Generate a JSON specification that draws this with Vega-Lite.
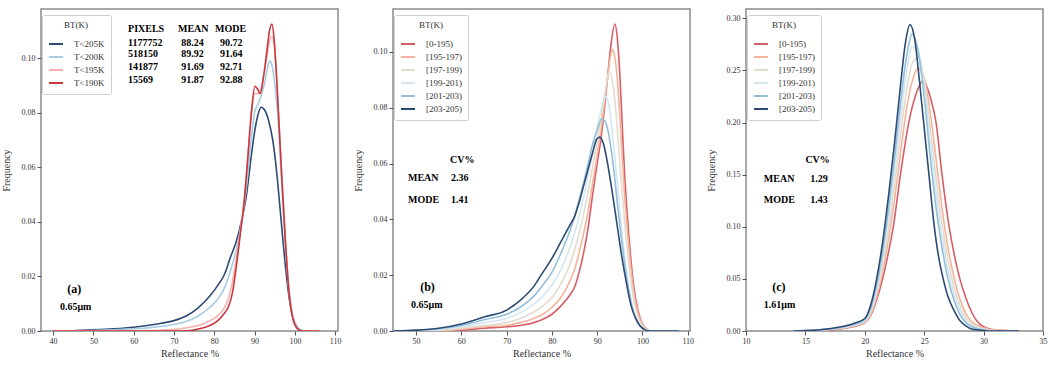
{
"$schema":"https://vega.github.io/schema/vega-lite/v6.json",
"padding":{"left":0,"top":8,"right":4,"bottom":2},
"spacing":10,
"config":{
 "font":"Liberation Serif",
 "view":{"stroke":"#8a8a8a","strokeWidth":1.5},
 "axis":{"grid":false,"domain":false,"tickSize":4,"tickColor":"#555","labelFont":"Liberation Serif","labelFontSize":8,"labelColor":"#333","titleFont":"Liberation Serif","titleFontSize":10,"titleFontWeight":"normal","titleColor":"#333","labelFlush":false,"labelOverlap":false},
 "axisY":{"minExtent":26,"maxExtent":26,"titlePadding":4,"labelFont":"Liberation Serif","titleFont":"Liberation Serif"},
 "axisX":{"labelPadding":2,"titlePadding":3,"labelFont":"Liberation Serif","titleFont":"Liberation Serif"},
 "legend":{"fillColor":"white","strokeColor":"#d0d0d0","padding":6,"cornerRadius":2,"titleFont":"Liberation Serif","titleFontSize":9,"titleFontWeight":"normal","titleAnchor":"middle","titlePadding":6,"labelFont":"Liberation Serif","labelFontSize":9,"labelOffset":10,"symbolType":"stroke","symbolSize":196,"symbolStrokeWidth":2,"rowPadding":0,"labelColor":"#333","titleColor":"#333"}
},
"datasets":{
"a":[
{"s":"T<205K","x":40,"y":0},{"s":"T<205K","x":45,"y":0.0001},{"s":"T<205K","x":50,"y":0.0004},{"s":"T<205K","x":55,"y":0.0008},{"s":"T<205K","x":60,"y":0.0014},{"s":"T<205K","x":65,"y":0.0024},{"s":"T<205K","x":70,"y":0.0038},{"s":"T<205K","x":73,"y":0.0055},{"s":"T<205K","x":76,"y":0.0085},{"s":"T<205K","x":79,"y":0.013},{"s":"T<205K","x":81,"y":0.017},{"s":"T<205K","x":82.6,"y":0.021},{"s":"T<205K","x":84,"y":0.027},{"s":"T<205K","x":85.5,"y":0.033},{"s":"T<205K","x":86.7,"y":0.04},{"s":"T<205K","x":88,"y":0.05},{"s":"T<205K","x":89,"y":0.062},{"s":"T<205K","x":90,"y":0.073},{"s":"T<205K","x":90.8,"y":0.079},{"s":"T<205K","x":91.6,"y":0.082},{"s":"T<205K","x":92.5,"y":0.081},{"s":"T<205K","x":93.5,"y":0.077},{"s":"T<205K","x":94.5,"y":0.07},{"s":"T<205K","x":95.5,"y":0.058},{"s":"T<205K","x":96.5,"y":0.042},{"s":"T<205K","x":97.5,"y":0.026},{"s":"T<205K","x":98.5,"y":0.013},{"s":"T<205K","x":99.5,"y":0.005},{"s":"T<205K","x":100.5,"y":0.0015},{"s":"T<205K","x":101.5,"y":0.0003},{"s":"T<205K","x":102.5,"y":0},{"s":"T<205K","x":106,"y":0},
{"s":"T<200K","x":40,"y":0},{"s":"T<200K","x":50,"y":0.0002},{"s":"T<200K","x":55,"y":0.0004},{"s":"T<200K","x":60,"y":0.0008},{"s":"T<200K","x":65,"y":0.0014},{"s":"T<200K","x":70,"y":0.0024},{"s":"T<200K","x":73,"y":0.0035},{"s":"T<200K","x":76,"y":0.0055},{"s":"T<200K","x":79,"y":0.0088},{"s":"T<200K","x":81,"y":0.012},{"s":"T<200K","x":82.6,"y":0.016},{"s":"T<200K","x":84,"y":0.022},{"s":"T<200K","x":85.5,"y":0.03},{"s":"T<200K","x":86.7,"y":0.039},{"s":"T<200K","x":88,"y":0.053},{"s":"T<200K","x":89,"y":0.068},{"s":"T<200K","x":90,"y":0.08},{"s":"T<200K","x":90.8,"y":0.083},{"s":"T<200K","x":91.6,"y":0.086},{"s":"T<200K","x":92.5,"y":0.091},{"s":"T<200K","x":93.3,"y":0.097},{"s":"T<200K","x":93.8,"y":0.099},{"s":"T<200K","x":94.5,"y":0.096},{"s":"T<200K","x":95.2,"y":0.088},{"s":"T<200K","x":95.8,"y":0.078},{"s":"T<200K","x":96.5,"y":0.06},{"s":"T<200K","x":97.3,"y":0.04},{"s":"T<200K","x":98.2,"y":0.02},{"s":"T<200K","x":99.2,"y":0.007},{"s":"T<200K","x":100.2,"y":0.002},{"s":"T<200K","x":101,"y":0.0005},{"s":"T<200K","x":102,"y":0},{"s":"T<200K","x":106,"y":0},
{"s":"T<195K","x":40,"y":0},{"s":"T<195K","x":65,"y":0.0002},{"s":"T<195K","x":70,"y":0.0006},{"s":"T<195K","x":74,"y":0.0014},{"s":"T<195K","x":77,"y":0.0025},{"s":"T<195K","x":79,"y":0.0038},{"s":"T<195K","x":81,"y":0.0058},{"s":"T<195K","x":82.5,"y":0.0085},{"s":"T<195K","x":83.5,"y":0.012},{"s":"T<195K","x":84.5,"y":0.018},{"s":"T<195K","x":85.5,"y":0.027},{"s":"T<195K","x":86.5,"y":0.037},{"s":"T<195K","x":87.4,"y":0.048},{"s":"T<195K","x":88.3,"y":0.064},{"s":"T<195K","x":89.2,"y":0.079},{"s":"T<195K","x":90,"y":0.087},{"s":"T<195K","x":90.8,"y":0.087},{"s":"T<195K","x":91.4,"y":0.088},{"s":"T<195K","x":92.2,"y":0.093},{"s":"T<195K","x":93,"y":0.1},{"s":"T<195K","x":93.7,"y":0.106},{"s":"T<195K","x":94.3,"y":0.108},{"s":"T<195K","x":94.9,"y":0.104},{"s":"T<195K","x":95.5,"y":0.092},{"s":"T<195K","x":96.1,"y":0.075},{"s":"T<195K","x":96.8,"y":0.055},{"s":"T<195K","x":97.6,"y":0.035},{"s":"T<195K","x":98.5,"y":0.016},{"s":"T<195K","x":99.5,"y":0.005},{"s":"T<195K","x":100.5,"y":0.0012},{"s":"T<195K","x":101.2,"y":0.0003},{"s":"T<195K","x":102,"y":0},{"s":"T<195K","x":106,"y":0},
{"s":"T<190K","x":40,"y":0},{"s":"T<190K","x":70,"y":0},{"s":"T<190K","x":74,"y":0.0002},{"s":"T<190K","x":76,"y":0.0007},{"s":"T<190K","x":78,"y":0.0015},{"s":"T<190K","x":79.2,"y":0.0022},{"s":"T<190K","x":81,"y":0.004},{"s":"T<190K","x":82.5,"y":0.0065},{"s":"T<190K","x":83.4,"y":0.0085},{"s":"T<190K","x":84.5,"y":0.014},{"s":"T<190K","x":85.5,"y":0.024},{"s":"T<190K","x":86.5,"y":0.036},{"s":"T<190K","x":87.4,"y":0.047},{"s":"T<190K","x":88.3,"y":0.063},{"s":"T<190K","x":89.2,"y":0.08},{"s":"T<190K","x":90.1,"y":0.0897},{"s":"T<190K","x":90.8,"y":0.0885},{"s":"T<190K","x":91.4,"y":0.087},{"s":"T<190K","x":92.2,"y":0.093},{"s":"T<190K","x":93,"y":0.102},{"s":"T<190K","x":93.7,"y":0.11},{"s":"T<190K","x":94.3,"y":0.1125},{"s":"T<190K","x":94.9,"y":0.106},{"s":"T<190K","x":95.5,"y":0.092},{"s":"T<190K","x":96.1,"y":0.075},{"s":"T<190K","x":96.8,"y":0.055},{"s":"T<190K","x":97.6,"y":0.034},{"s":"T<190K","x":98.5,"y":0.015},{"s":"T<190K","x":99.5,"y":0.0045},{"s":"T<190K","x":100.5,"y":0.001},{"s":"T<190K","x":101.2,"y":0.0002},{"s":"T<190K","x":102,"y":0},{"s":"T<190K","x":106,"y":0}
],
"b":[
{"s":"[0-195)","x":45,"y":0},{"s":"[0-195)","x":55,"y":0},{"s":"[0-195)","x":60,"y":0.0003},{"s":"[0-195)","x":65,"y":0.001},{"s":"[0-195)","x":70,"y":0.0015},{"s":"[0-195)","x":73,"y":0.002},{"s":"[0-195)","x":76,"y":0.003},{"s":"[0-195)","x":78,"y":0.0042},{"s":"[0-195)","x":80,"y":0.006},{"s":"[0-195)","x":82,"y":0.009},{"s":"[0-195)","x":84,"y":0.013},{"s":"[0-195)","x":85,"y":0.0157},{"s":"[0-195)","x":86,"y":0.021},{"s":"[0-195)","x":87,"y":0.028},{"s":"[0-195)","x":88,"y":0.037},{"s":"[0-195)","x":89,"y":0.049},{"s":"[0-195)","x":90,"y":0.06},{"s":"[0-195)","x":91,"y":0.071},{"s":"[0-195)","x":92,"y":0.086},{"s":"[0-195)","x":93,"y":0.102},{"s":"[0-195)","x":93.9,"y":0.11},{"s":"[0-195)","x":94.5,"y":0.104},{"s":"[0-195)","x":95,"y":0.092},{"s":"[0-195)","x":95.5,"y":0.075},{"s":"[0-195)","x":96,"y":0.058},{"s":"[0-195)","x":96.5,"y":0.045},{"s":"[0-195)","x":97,"y":0.034},{"s":"[0-195)","x":98,"y":0.017},{"s":"[0-195)","x":99,"y":0.0075},{"s":"[0-195)","x":100,"y":0.0025},{"s":"[0-195)","x":101,"y":0.0006},{"s":"[0-195)","x":102,"y":0},{"s":"[0-195)","x":108,"y":0},
{"s":"[195-197)","x":45,"y":0},{"s":"[195-197)","x":55,"y":0.0001},{"s":"[195-197)","x":60,"y":0.0006},{"s":"[195-197)","x":65,"y":0.0015},{"s":"[195-197)","x":70,"y":0.002},{"s":"[195-197)","x":73,"y":0.003},{"s":"[195-197)","x":76,"y":0.0045},{"s":"[195-197)","x":78,"y":0.006},{"s":"[195-197)","x":80,"y":0.0085},{"s":"[195-197)","x":82,"y":0.012},{"s":"[195-197)","x":84,"y":0.018},{"s":"[195-197)","x":85,"y":0.022},{"s":"[195-197)","x":86,"y":0.028},{"s":"[195-197)","x":87,"y":0.035},{"s":"[195-197)","x":88,"y":0.043},{"s":"[195-197)","x":89,"y":0.053},{"s":"[195-197)","x":90,"y":0.063},{"s":"[195-197)","x":91,"y":0.074},{"s":"[195-197)","x":92,"y":0.087},{"s":"[195-197)","x":93,"y":0.099},{"s":"[195-197)","x":93.4,"y":0.101},{"s":"[195-197)","x":94,"y":0.097},{"s":"[195-197)","x":94.5,"y":0.089},{"s":"[195-197)","x":95,"y":0.077},{"s":"[195-197)","x":95.5,"y":0.063},{"s":"[195-197)","x":96,"y":0.05},{"s":"[195-197)","x":97,"y":0.03},{"s":"[195-197)","x":98,"y":0.015},{"s":"[195-197)","x":99,"y":0.0065},{"s":"[195-197)","x":100,"y":0.0022},{"s":"[195-197)","x":101,"y":0.0006},{"s":"[195-197)","x":102,"y":0},{"s":"[195-197)","x":108,"y":0},
{"s":"[197-199)","x":45,"y":0},{"s":"[197-199)","x":55,"y":0.0003},{"s":"[197-199)","x":60,"y":0.001},{"s":"[197-199)","x":65,"y":0.002},{"s":"[197-199)","x":70,"y":0.003},{"s":"[197-199)","x":73,"y":0.0045},{"s":"[197-199)","x":76,"y":0.0068},{"s":"[197-199)","x":78,"y":0.009},{"s":"[197-199)","x":80,"y":0.012},{"s":"[197-199)","x":82,"y":0.017},{"s":"[197-199)","x":84,"y":0.024},{"s":"[197-199)","x":85,"y":0.029},{"s":"[197-199)","x":86,"y":0.035},{"s":"[197-199)","x":87,"y":0.042},{"s":"[197-199)","x":88,"y":0.05},{"s":"[197-199)","x":89,"y":0.059},{"s":"[197-199)","x":90,"y":0.068},{"s":"[197-199)","x":91,"y":0.078},{"s":"[197-199)","x":92,"y":0.088},{"s":"[197-199)","x":92.7,"y":0.093},{"s":"[197-199)","x":93.5,"y":0.088},{"s":"[197-199)","x":94,"y":0.081},{"s":"[197-199)","x":95,"y":0.06},{"s":"[197-199)","x":96,"y":0.04},{"s":"[197-199)","x":97,"y":0.024},{"s":"[197-199)","x":98,"y":0.012},{"s":"[197-199)","x":99,"y":0.005},{"s":"[197-199)","x":100,"y":0.0018},{"s":"[197-199)","x":101,"y":0.0005},{"s":"[197-199)","x":102,"y":0},{"s":"[197-199)","x":108,"y":0},
{"s":"[199-201)","x":45,"y":0},{"s":"[199-201)","x":50,"y":0.0001},{"s":"[199-201)","x":55,"y":0.0005},{"s":"[199-201)","x":60,"y":0.0015},{"s":"[199-201)","x":65,"y":0.003},{"s":"[199-201)","x":70,"y":0.0045},{"s":"[199-201)","x":73,"y":0.0065},{"s":"[199-201)","x":76,"y":0.0095},{"s":"[199-201)","x":78,"y":0.0125},{"s":"[199-201)","x":80,"y":0.0165},{"s":"[199-201)","x":82,"y":0.022},{"s":"[199-201)","x":84,"y":0.03},{"s":"[199-201)","x":85,"y":0.035},{"s":"[199-201)","x":86,"y":0.041},{"s":"[199-201)","x":87,"y":0.048},{"s":"[199-201)","x":88,"y":0.056},{"s":"[199-201)","x":89,"y":0.064},{"s":"[199-201)","x":90,"y":0.073},{"s":"[199-201)","x":91,"y":0.08},{"s":"[199-201)","x":91.9,"y":0.084},{"s":"[199-201)","x":92.7,"y":0.08},{"s":"[199-201)","x":93.5,"y":0.069},{"s":"[199-201)","x":94.5,"y":0.052},{"s":"[199-201)","x":95.5,"y":0.035},{"s":"[199-201)","x":96.5,"y":0.021},{"s":"[199-201)","x":97.5,"y":0.011},{"s":"[199-201)","x":98.5,"y":0.005},{"s":"[199-201)","x":99.5,"y":0.0018},{"s":"[199-201)","x":100.5,"y":0.0005},{"s":"[199-201)","x":101.5,"y":0},{"s":"[199-201)","x":108,"y":0},
{"s":"[201-203)","x":45,"y":0},{"s":"[201-203)","x":50,"y":0.0002},{"s":"[201-203)","x":55,"y":0.0008},{"s":"[201-203)","x":60,"y":0.002},{"s":"[201-203)","x":65,"y":0.004},{"s":"[201-203)","x":70,"y":0.006},{"s":"[201-203)","x":73,"y":0.0085},{"s":"[201-203)","x":76,"y":0.0125},{"s":"[201-203)","x":78,"y":0.0165},{"s":"[201-203)","x":80,"y":0.021},{"s":"[201-203)","x":82,"y":0.028},{"s":"[201-203)","x":84,"y":0.036},{"s":"[201-203)","x":85,"y":0.041},{"s":"[201-203)","x":86,"y":0.047},{"s":"[201-203)","x":87,"y":0.053},{"s":"[201-203)","x":88,"y":0.06},{"s":"[201-203)","x":89,"y":0.067},{"s":"[201-203)","x":90,"y":0.072},{"s":"[201-203)","x":91,"y":0.076},{"s":"[201-203)","x":91.8,"y":0.075},{"s":"[201-203)","x":92.6,"y":0.07},{"s":"[201-203)","x":93.5,"y":0.06},{"s":"[201-203)","x":94.5,"y":0.045},{"s":"[201-203)","x":95.5,"y":0.031},{"s":"[201-203)","x":96.5,"y":0.019},{"s":"[201-203)","x":97.5,"y":0.01},{"s":"[201-203)","x":98.5,"y":0.0045},{"s":"[201-203)","x":99.5,"y":0.0016},{"s":"[201-203)","x":100.5,"y":0.0004},{"s":"[201-203)","x":101.5,"y":0},{"s":"[201-203)","x":108,"y":0},
{"s":"[203-205)","x":45,"y":0},{"s":"[203-205)","x":50,"y":0.0003},{"s":"[203-205)","x":55,"y":0.001},{"s":"[203-205)","x":60,"y":0.0025},{"s":"[203-205)","x":65,"y":0.005},{"s":"[203-205)","x":70,"y":0.0075},{"s":"[203-205)","x":73,"y":0.011},{"s":"[203-205)","x":76,"y":0.016},{"s":"[203-205)","x":78,"y":0.021},{"s":"[203-205)","x":80,"y":0.026},{"s":"[203-205)","x":82,"y":0.032},{"s":"[203-205)","x":84,"y":0.038},{"s":"[203-205)","x":85,"y":0.041},{"s":"[203-205)","x":86,"y":0.046},{"s":"[203-205)","x":87,"y":0.052},{"s":"[203-205)","x":88,"y":0.058},{"s":"[203-205)","x":89,"y":0.064},{"s":"[203-205)","x":90,"y":0.069},{"s":"[203-205)","x":90.6,"y":0.0695},{"s":"[203-205)","x":91.4,"y":0.067},{"s":"[203-205)","x":92.3,"y":0.06},{"s":"[203-205)","x":93.3,"y":0.05},{"s":"[203-205)","x":94.4,"y":0.038},{"s":"[203-205)","x":95.5,"y":0.026},{"s":"[203-205)","x":96.6,"y":0.016},{"s":"[203-205)","x":97.5,"y":0.009},{"s":"[203-205)","x":98.5,"y":0.0045},{"s":"[203-205)","x":99.5,"y":0.0018},{"s":"[203-205)","x":100.5,"y":0.0005},{"s":"[203-205)","x":101.5,"y":0},{"s":"[203-205)","x":108,"y":0}
],
"c":[
{"s":"[0-195)","x":14,"y":0},{"s":"[0-195)","x":16,"y":0.0005},{"s":"[0-195)","x":18,"y":0.002},{"s":"[0-195)","x":19,"y":0.004},{"s":"[0-195)","x":20,"y":0.008},{"s":"[0-195)","x":20.5,"y":0.015},{"s":"[0-195)","x":21,"y":0.03},{"s":"[0-195)","x":21.5,"y":0.05},{"s":"[0-195)","x":22,"y":0.076},{"s":"[0-195)","x":22.4,"y":0.1},{"s":"[0-195)","x":23,"y":0.15},{"s":"[0-195)","x":23.7,"y":0.2},{"s":"[0-195)","x":24.3,"y":0.227},{"s":"[0-195)","x":24.9,"y":0.24},{"s":"[0-195)","x":25.5,"y":0.225},{"s":"[0-195)","x":26,"y":0.2},{"s":"[0-195)","x":26.5,"y":0.15},{"s":"[0-195)","x":27.1,"y":0.1},{"s":"[0-195)","x":27.5,"y":0.075},{"s":"[0-195)","x":28,"y":0.05},{"s":"[0-195)","x":28.5,"y":0.032},{"s":"[0-195)","x":29,"y":0.018},{"s":"[0-195)","x":29.4,"y":0.01},{"s":"[0-195)","x":30,"y":0.004},{"s":"[0-195)","x":31,"y":0.001},{"s":"[0-195)","x":33,"y":0},
{"s":"[195-197)","x":14,"y":0},{"s":"[195-197)","x":16,"y":0.0008},{"s":"[195-197)","x":18,"y":0.0025},{"s":"[195-197)","x":19,"y":0.0045},{"s":"[195-197)","x":20,"y":0.0085},{"s":"[195-197)","x":20.5,"y":0.016},{"s":"[195-197)","x":21,"y":0.033},{"s":"[195-197)","x":21.5,"y":0.057},{"s":"[195-197)","x":22,"y":0.088},{"s":"[195-197)","x":22.5,"y":0.126},{"s":"[195-197)","x":23,"y":0.17},{"s":"[195-197)","x":23.5,"y":0.212},{"s":"[195-197)","x":24,"y":0.24},{"s":"[195-197)","x":24.5,"y":0.252},{"s":"[195-197)","x":25,"y":0.243},{"s":"[195-197)","x":25.5,"y":0.21},{"s":"[195-197)","x":26,"y":0.165},{"s":"[195-197)","x":26.5,"y":0.118},{"s":"[195-197)","x":27,"y":0.08},{"s":"[195-197)","x":27.5,"y":0.052},{"s":"[195-197)","x":28,"y":0.031},{"s":"[195-197)","x":28.5,"y":0.017},{"s":"[195-197)","x":29,"y":0.009},{"s":"[195-197)","x":30,"y":0.003},{"s":"[195-197)","x":31,"y":0.0008},{"s":"[195-197)","x":33,"y":0},
{"s":"[197-199)","x":14,"y":0},{"s":"[197-199)","x":16,"y":0.001},{"s":"[197-199)","x":18,"y":0.003},{"s":"[197-199)","x":19,"y":0.005},{"s":"[197-199)","x":20,"y":0.009},{"s":"[197-199)","x":20.5,"y":0.018},{"s":"[197-199)","x":21,"y":0.036},{"s":"[197-199)","x":21.5,"y":0.063},{"s":"[197-199)","x":22,"y":0.098},{"s":"[197-199)","x":22.5,"y":0.14},{"s":"[197-199)","x":23,"y":0.187},{"s":"[197-199)","x":23.5,"y":0.23},{"s":"[197-199)","x":24,"y":0.257},{"s":"[197-199)","x":24.5,"y":0.262},{"s":"[197-199)","x":25,"y":0.24},{"s":"[197-199)","x":25.5,"y":0.196},{"s":"[197-199)","x":26,"y":0.147},{"s":"[197-199)","x":26.5,"y":0.103},{"s":"[197-199)","x":27,"y":0.068},{"s":"[197-199)","x":27.5,"y":0.043},{"s":"[197-199)","x":28,"y":0.025},{"s":"[197-199)","x":28.5,"y":0.013},{"s":"[197-199)","x":29,"y":0.007},{"s":"[197-199)","x":30,"y":0.002},{"s":"[197-199)","x":31,"y":0.0005},{"s":"[197-199)","x":33,"y":0},
{"s":"[199-201)","x":14,"y":0},{"s":"[199-201)","x":16,"y":0.001},{"s":"[199-201)","x":18,"y":0.003},{"s":"[199-201)","x":19,"y":0.0055},{"s":"[199-201)","x":20,"y":0.01},{"s":"[199-201)","x":20.5,"y":0.02},{"s":"[199-201)","x":21,"y":0.04},{"s":"[199-201)","x":21.5,"y":0.07},{"s":"[199-201)","x":22,"y":0.108},{"s":"[199-201)","x":22.5,"y":0.153},{"s":"[199-201)","x":23,"y":0.203},{"s":"[199-201)","x":23.5,"y":0.248},{"s":"[199-201)","x":24,"y":0.273},{"s":"[199-201)","x":24.5,"y":0.268},{"s":"[199-201)","x":25,"y":0.235},{"s":"[199-201)","x":25.5,"y":0.183},{"s":"[199-201)","x":26,"y":0.132},{"s":"[199-201)","x":26.5,"y":0.09},{"s":"[199-201)","x":27,"y":0.058},{"s":"[199-201)","x":27.5,"y":0.036},{"s":"[199-201)","x":28,"y":0.02},{"s":"[199-201)","x":28.5,"y":0.01},{"s":"[199-201)","x":29,"y":0.005},{"s":"[199-201)","x":30,"y":0.0015},{"s":"[199-201)","x":31,"y":0},{"s":"[199-201)","x":33,"y":0},
{"s":"[201-203)","x":14,"y":0},{"s":"[201-203)","x":16,"y":0.001},{"s":"[201-203)","x":18,"y":0.0035},{"s":"[201-203)","x":19,"y":0.006},{"s":"[201-203)","x":20,"y":0.011},{"s":"[201-203)","x":20.5,"y":0.022},{"s":"[201-203)","x":21,"y":0.044},{"s":"[201-203)","x":21.5,"y":0.076},{"s":"[201-203)","x":22,"y":0.118},{"s":"[201-203)","x":22.5,"y":0.165},{"s":"[201-203)","x":23,"y":0.218},{"s":"[201-203)","x":23.5,"y":0.262},{"s":"[201-203)","x":24,"y":0.285},{"s":"[201-203)","x":24.5,"y":0.268},{"s":"[201-203)","x":25,"y":0.225},{"s":"[201-203)","x":25.5,"y":0.168},{"s":"[201-203)","x":26,"y":0.118},{"s":"[201-203)","x":26.5,"y":0.08},{"s":"[201-203)","x":27,"y":0.05},{"s":"[201-203)","x":27.5,"y":0.03},{"s":"[201-203)","x":28,"y":0.016},{"s":"[201-203)","x":28.5,"y":0.008},{"s":"[201-203)","x":29,"y":0.004},{"s":"[201-203)","x":30,"y":0.001},{"s":"[201-203)","x":31,"y":0},{"s":"[201-203)","x":33,"y":0},
{"s":"[203-205)","x":14,"y":0},{"s":"[203-205)","x":16,"y":0.001},{"s":"[203-205)","x":18,"y":0.004},{"s":"[203-205)","x":19,"y":0.007},{"s":"[203-205)","x":20,"y":0.012},{"s":"[203-205)","x":20.5,"y":0.025},{"s":"[203-205)","x":21,"y":0.05},{"s":"[203-205)","x":21.5,"y":0.085},{"s":"[203-205)","x":22,"y":0.13},{"s":"[203-205)","x":22.5,"y":0.18},{"s":"[203-205)","x":23,"y":0.235},{"s":"[203-205)","x":23.4,"y":0.275},{"s":"[203-205)","x":23.8,"y":0.294},{"s":"[203-205)","x":24.2,"y":0.28},{"s":"[203-205)","x":24.6,"y":0.24},{"s":"[203-205)","x":25,"y":0.195},{"s":"[203-205)","x":25.4,"y":0.15},{"s":"[203-205)","x":25.8,"y":0.105},{"s":"[203-205)","x":26.2,"y":0.072},{"s":"[203-205)","x":26.6,"y":0.05},{"s":"[203-205)","x":27,"y":0.033},{"s":"[203-205)","x":27.5,"y":0.02},{"s":"[203-205)","x":28,"y":0.01},{"s":"[203-205)","x":28.5,"y":0.005},{"s":"[203-205)","x":29,"y":0.002},{"s":"[203-205)","x":30,"y":0.0005},{"s":"[203-205)","x":31,"y":0},{"s":"[203-205)","x":33,"y":0}
],
"ta":[
{"g":"tab","x":58.6,"y":0.1105,"t":"PIXELS"},{"g":"tab","x":71,"y":0.1105,"t":"MEAN"},{"g":"tab","x":80.2,"y":0.1105,"t":"MODE"},
{"g":"tab","x":58.6,"y":0.1054,"t":"1177752"},{"g":"tab","x":71.8,"y":0.1054,"t":"88.24"},{"g":"tab","x":81.4,"y":0.1054,"t":"90.72"},
{"g":"tab","x":58.6,"y":0.1014,"t":"518150"},{"g":"tab","x":71.8,"y":0.1014,"t":"89.92"},{"g":"tab","x":81.4,"y":0.1014,"t":"91.64"},
{"g":"tab","x":58.6,"y":0.0966,"t":"141877"},{"g":"tab","x":71.8,"y":0.0966,"t":"91.69"},{"g":"tab","x":81.4,"y":0.0966,"t":"92.71"},
{"g":"tab","x":58.6,"y":0.0919,"t":"15569"},{"g":"tab","x":71.8,"y":0.0919,"t":"91.87"},{"g":"tab","x":81.4,"y":0.0919,"t":"92.88"},
{"g":"lab","x":43.5,"y":0.0154,"t":"(a)"},{"g":"tab","x":41.7,"y":0.0088,"t":"0.65μm"}
],
"tb":[
{"g":"tab","x":57.5,"y":0.0614,"t":"CV%"},{"g":"tab","x":48.2,"y":0.055,"t":"MEAN"},{"g":"tab","x":57.7,"y":0.055,"t":"2.36"},{"g":"tab","x":48.2,"y":0.0468,"t":"MODE"},{"g":"tab","x":57.7,"y":0.0468,"t":"1.41"},
{"g":"lab","x":50.9,"y":0.0157,"t":"(b)"},{"g":"tab","x":48.9,"y":0.0093,"t":"0.65μm"}
],
"tc":[
{"g":"tab","x":15.0,"y":0.164,"t":"CV%"},{"g":"tab","x":11.5,"y":0.146,"t":"MEAN"},{"g":"tab","x":15.4,"y":0.146,"t":"1.29"},{"g":"tab","x":11.5,"y":0.126,"t":"MODE"},{"g":"tab","x":15.4,"y":0.126,"t":"1.43"},
{"g":"lab","x":12.2,"y":0.042,"t":"(c)"},{"g":"tab","x":11.5,"y":0.0248,"t":"1.61μm"}
]
},
"hconcat":[
{"width":297,"height":322,
 "layer":[
  {"data":{"name":"a"},"mark":{"type":"line","strokeWidth":1.6,"clip":true,"interpolate":"monotone"},
   "encoding":{
    "x":{"field":"x","type":"quantitative","scale":{"domain":[37,110.7],"nice":false,"zero":false},"axis":{"title":"Reflectance %","values":[40,50,60,70,80,90,100,110],"labelFont":"Liberation Serif","titleFont":"Liberation Serif"}},
    "y":{"field":"y","type":"quantitative","scale":{"domain":[0,0.118],"nice":false},"axis":{"title":"Frequency","values":[0,0.02,0.04,0.06,0.08,0.1],"format":".2f","labelFont":"Liberation Serif","titleFont":"Liberation Serif"}},
    "color":{"field":"s","type":"nominal","scale":{"domain":["T<205K","T<200K","T<195K","T<190K"],"range":["#2c4a73","#a6cde2","#f5b3b3","#c8373e"]},"legend":{"title":"BT(K)","orient":"none","legendX":1,"legendY":6}}
   }},
  {"data":{"name":"ta"},"transform":[{"filter":"datum.g=='tab'"}],"mark":{"type":"text","align":"left","baseline":"middle","fontWeight":"bold","fontSize":10,"font":"Liberation Serif","color":"black"},
   "encoding":{"x":{"field":"x","type":"quantitative"},"y":{"field":"y","type":"quantitative"},"text":{"field":"t"}}},
  {"data":{"name":"ta"},"transform":[{"filter":"datum.g=='lab'"}],"mark":{"type":"text","align":"left","baseline":"middle","fontWeight":"bold","fontSize":12,"font":"Liberation Serif","color":"black"},
   "encoding":{"x":{"field":"x","type":"quantitative"},"y":{"field":"y","type":"quantitative"},"text":{"field":"t"}}}
 ]},
{"width":297,"height":322,
 "layer":[
  {"data":{"name":"b"},"mark":{"type":"line","strokeWidth":1.6,"clip":true,"interpolate":"monotone"},
   "encoding":{
    "x":{"field":"x","type":"quantitative","scale":{"domain":[44.9,110.5],"nice":false,"zero":false},"axis":{"title":"Reflectance %","values":[50,60,70,80,90,100,110],"labelFont":"Liberation Serif","titleFont":"Liberation Serif"}},
    "y":{"field":"y","type":"quantitative","scale":{"domain":[0,0.1154],"nice":false},"axis":{"title":"Frequency","values":[0,0.02,0.04,0.06,0.08,0.1],"format":".2f","labelFont":"Liberation Serif","titleFont":"Liberation Serif"}},
    "color":{"field":"s","type":"nominal","scale":{"domain":["[0-195)","[195-197)","[197-199)","[199-201)","[201-203)","[203-205)"],"range":["#d65f67","#f4b49a","#e3dccf","#d4e6f1","#92bfd8","#2c4a73"]},"legend":{"title":"BT(K)","orient":"none","legendX":1,"legendY":6}}
   }},
  {"data":{"name":"tb"},"transform":[{"filter":"datum.g=='tab'"}],"mark":{"type":"text","align":"left","baseline":"middle","fontWeight":"bold","fontSize":10,"font":"Liberation Serif","color":"black"},
   "encoding":{"x":{"field":"x","type":"quantitative"},"y":{"field":"y","type":"quantitative"},"text":{"field":"t"}}},
  {"data":{"name":"tb"},"transform":[{"filter":"datum.g=='lab'"}],"mark":{"type":"text","align":"left","baseline":"middle","fontWeight":"bold","fontSize":12,"font":"Liberation Serif","color":"black"},
   "encoding":{"x":{"field":"x","type":"quantitative"},"y":{"field":"y","type":"quantitative"},"text":{"field":"t"}}}
 ]},
{"width":297,"height":322,
 "layer":[
  {"data":{"name":"c"},"mark":{"type":"line","strokeWidth":1.6,"clip":true,"interpolate":"monotone"},
   "encoding":{
    "x":{"field":"x","type":"quantitative","scale":{"domain":[10,35],"nice":false,"zero":false},"axis":{"title":"Reflectance %","values":[10,15,20,25,30,35],"labelFont":"Liberation Serif","titleFont":"Liberation Serif"}},
    "y":{"field":"y","type":"quantitative","scale":{"domain":[0,0.309],"nice":false},"axis":{"title":"Frequency","values":[0,0.05,0.1,0.15,0.2,0.25,0.3],"format":".2f","labelFont":"Liberation Serif","titleFont":"Liberation Serif"}},
    "color":{"field":"s","type":"nominal","scale":{"domain":["[0-195)","[195-197)","[197-199)","[199-201)","[201-203)","[203-205)"],"range":["#d65f67","#f4b49a","#e3dccf","#d4e6f1","#92bfd8","#2c4a73"]},"legend":{"title":"BT(K)","orient":"none","legendX":1,"legendY":6}}
   }},
  {"data":{"name":"tc"},"transform":[{"filter":"datum.g=='tab'"}],"mark":{"type":"text","align":"left","baseline":"middle","fontWeight":"bold","fontSize":10,"font":"Liberation Serif","color":"black"},
   "encoding":{"x":{"field":"x","type":"quantitative"},"y":{"field":"y","type":"quantitative"},"text":{"field":"t"}}},
  {"data":{"name":"tc"},"transform":[{"filter":"datum.g=='lab'"}],"mark":{"type":"text","align":"left","baseline":"middle","fontWeight":"bold","fontSize":12,"font":"Liberation Serif","color":"black"},
   "encoding":{"x":{"field":"x","type":"quantitative"},"y":{"field":"y","type":"quantitative"},"text":{"field":"t"}}}
 ]}
],
"resolve":{"scale":{"x":"independent","y":"independent","color":"independent"},"legend":{"color":"independent"}}
}
